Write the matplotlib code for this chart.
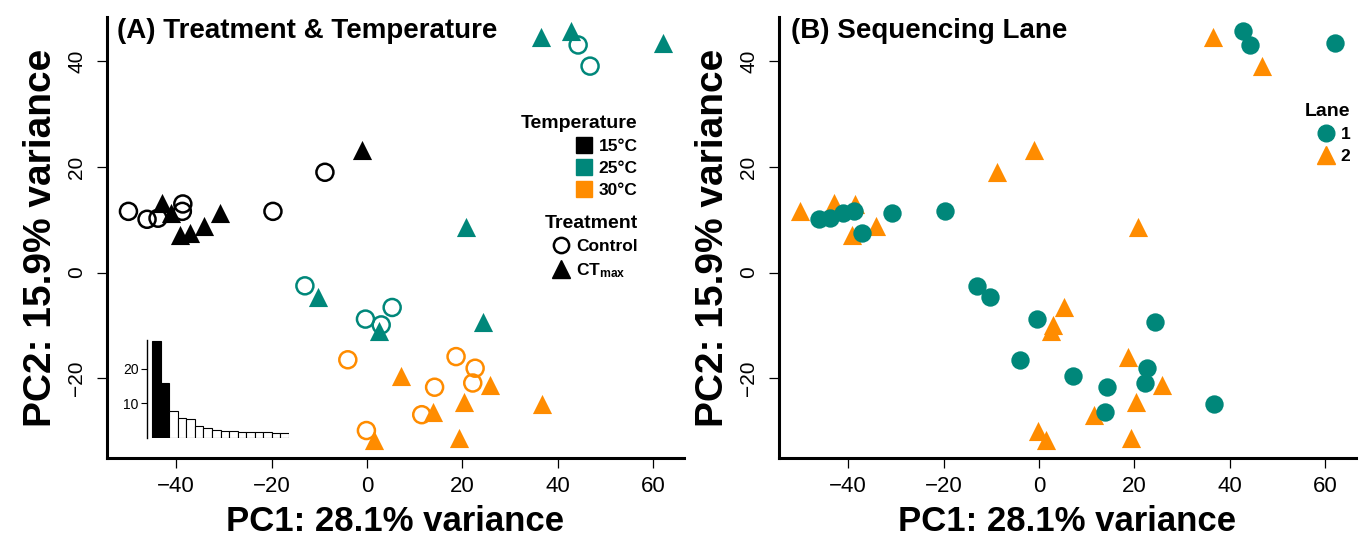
import matplotlib
matplotlib.use("Agg")
import matplotlib.pyplot as plt
from matplotlib.lines import Line2D

plt.rcParams["font.family"] = ["Liberation Sans", "DejaVu Sans"]
plt.rcParams["mathtext.fontset"] = "custom"
plt.rcParams["mathtext.rm"] = "Liberation Sans"
plt.rcParams["mathtext.bf"] = "Liberation Sans:bold"

# PCA scores
pc1 = [-50.0, -46.1, -43.8, -38.6, -38.7, -19.7, -8.8,
       -43.0, -41.0, -39.1, -37.0, -34.2, -30.8, -1.1,
       -13.0, -0.3, 3.0, 5.3, 44.3, 46.8,
       -10.2, 2.6, 20.8, 24.3, 36.5, 42.9, 62.1,
       -4.0, 18.7, 22.7, 22.2, 14.2, 11.5, -0.1,
       7.2, 13.8, 20.3, 25.8, 36.7, 1.4, 19.3]
pc2 = [11.6, 10.1, 10.3, 13.0, 11.6, 11.6, 19.0,
       13.1, 11.2, 7.1, 7.5, 8.8, 11.2, 23.2,
       -2.5, -8.8, -9.9, -6.6, 43.1, 39.1,
       -4.7, -11.0, 8.6, -9.3, 44.6, 45.8, 43.4,
       -16.5, -15.9, -18.1, -20.9, -21.7, -26.9, -29.9,
       -19.6, -26.3, -24.5, -21.3, -24.9, -31.7, -31.4]
temperature = ["15"] * 14 + ["25"] * 13 + ["30"] * 14
treatment = (["Control"] * 7 + ["CTmax"] * 7
             + ["Control"] * 6 + ["CTmax"] * 7
             + ["Control"] * 7 + ["CTmax"] * 7)
lane = [2, 1, 1, 2, 1, 1, 2,
        2, 1, 2, 1, 2, 1, 2,
        1, 1, 2, 2, 1, 2,
        1, 2, 2, 1, 2, 1, 1,
        1, 2, 1, 1, 1, 2, 2,
        1, 1, 2, 2, 1, 2, 2]

# percent variance per PC (scree inset)
variance = [28.1, 15.9, 7.8, 5.9, 5.4, 3.4, 2.9, 2.3,
            2.0, 1.9, 1.8, 1.8, 1.7, 1.6, 1.5, 1.4]

temp_colors = {"15": "#000000", "25": "#00877A", "30": "#FF8C00"}
lane_colors = {1: "#00877A", 2: "#FF8C00"}

W, H = 1359, 543
fig = plt.figure(figsize=(W / 100, H / 100), dpi=100)
axA = fig.add_axes([107 / W, 1 - 458 / H, 577 / W, 441 / H])
axB = fig.add_axes([779 / W, 1 - 458 / H, 577 / W, 441 / H])

leg_kw = dict(loc="upper right", frameon=False, alignment="right",
              prop={"size": 12.5, "weight": "bold"},
              title_fontproperties={"size": 14, "weight": "bold"},
              handlelength=1.0, handletextpad=0.35, labelspacing=0.4,
              borderpad=0, borderaxespad=0)


def style_axes(ax):
    ax.set_xlim(-54.5, 66.5)
    ax.set_ylim(-35.1, 48.4)
    ax.spines["top"].set_visible(False)
    ax.spines["right"].set_visible(False)
    ax.spines["left"].set_linewidth(2.2)
    ax.spines["bottom"].set_linewidth(2.2)
    ax.set_xticks([-40, -20, 0, 20, 40, 60])
    ax.set_yticks([-20, 0, 20, 40])
    ax.tick_params(axis="x", length=7, width=0.9, pad=6, labelsize=16)
    ax.tick_params(axis="y", length=7, width=0.9, pad=8, labelsize=15)
    for lab in ax.get_yticklabels():
        lab.set_rotation(90)
        lab.set_va("center")
    ax.set_xlabel("PC1: 28.1% variance", fontsize=25, fontweight="bold", labelpad=6)
    ax.set_ylabel("PC2: 15.9% variance", fontsize=28, fontweight="bold", labelpad=6)


# ---- panel A
for trt, mk in [("Control", "o"), ("CTmax", "^")]:
    for t in ["15", "25", "30"]:
        xs = [x for x, tt, tr in zip(pc1, temperature, treatment) if tt == t and tr == trt]
        ys = [y for y, tt, tr in zip(pc2, temperature, treatment) if tt == t and tr == trt]
        if mk == "o":
            axA.scatter(xs, ys, s=150, marker="o", facecolors="none",
                        edgecolors=temp_colors[t], linewidths=1.8, zorder=3)
        else:
            axA.scatter(xs, ys, s=190, marker="^", color=temp_colors[t],
                        linewidths=0, zorder=4)
style_axes(axA)
axA.text(0.017, 0.968, "(A) Treatment & Temperature", transform=axA.transAxes,
         fontsize=20, fontweight="bold", va="center", ha="left")

temp_handles = [Line2D([], [], marker="s", ls="", ms=11.5, color=temp_colors[t],
                       label=t + "°C") for t in ["15", "25", "30"]]
leg1 = axA.legend(handles=temp_handles, title="Temperature",
                  bbox_to_anchor=(0.92, 0.778), **leg_kw)
axA.add_artist(leg1)
trt_handles = [Line2D([], [], marker="o", ls="", ms=11, mfc="none", mec="black",
                      mew=1.8, label="Control"),
               Line2D([], [], marker="^", ls="", ms=13, color="black",
                      label=r"$\mathbf{CT_{max}}$")]
axA.legend(handles=trt_handles, title="Treatment",
           bbox_to_anchor=(0.92, 0.551), **leg_kw)

# scree inset
axI = fig.add_axes([147 / W, 1 - 438 / H, 142 / W, 98 / H])
pcs = list(range(1, len(variance) + 1))
bar_colors = ["black" if i < 2 else "white" for i in range(len(variance))]
axI.bar(pcs, variance, width=1.0, color=bar_colors, edgecolor="black", linewidth=0.8)
axI.set_xlim(-0.1, 16.5)
axI.set_ylim(0, 28.3)
axI.patch.set_visible(False)
for sp in ["top", "right", "bottom"]:
    axI.spines[sp].set_visible(False)
axI.spines["left"].set_linewidth(1.0)
axI.set_xticks([])
axI.set_yticks([10, 20])
axI.tick_params(axis="y", length=4, width=0.8, pad=2, labelsize=10)

# ---- panel B
for ln, mk, sz in [(2, "^", 190), (1, "o", 175)]:
    xs = [x for x, l in zip(pc1, lane) if l == ln]
    ys = [y for y, l in zip(pc2, lane) if l == ln]
    axB.scatter(xs, ys, s=sz, marker=mk, color=lane_colors[ln], linewidths=0, zorder=3)
style_axes(axB)
axB.text(0.021, 0.968, "(B) Sequencing Lane", transform=axB.transAxes,
         fontsize=20, fontweight="bold", va="center", ha="left")
lane_handles = [Line2D([], [], marker="o", ls="", ms=12, color=lane_colors[1], label="1"),
                Line2D([], [], marker="^", ls="", ms=13.5, color=lane_colors[2], label="2")]
axB.legend(handles=lane_handles, title="Lane",
           bbox_to_anchor=(0.99, 0.805), **leg_kw)

fig.savefig("out.png", dpi=100)
